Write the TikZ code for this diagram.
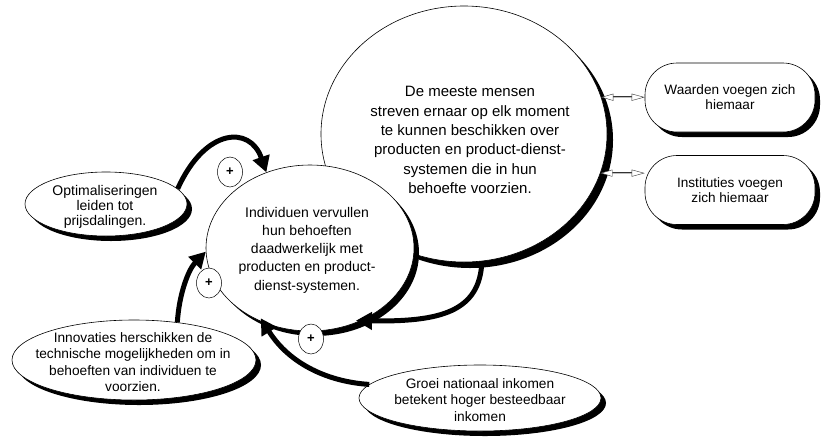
\documentclass[tikz,border=0pt]{standalone}
\usepackage{fontspec}
\setmainfont{Liberation Sans}
\usetikzlibrary{shapes.geometric,shadows,arrows.meta}

\begin{document}
\begin{tikzpicture}[x=1pt,y=-1pt,
  bubble/.style={ellipse, draw=black, line width=0.6pt, fill=white, inner sep=0pt},
  shade/.style={general shadow={fill=black, shadow xshift=#1, shadow yshift=-#1}},
  pill/.style={rectangle, rounded corners=32pt, draw=black, line width=0.6pt, fill=white,
    minimum width=170pt, minimum height=69pt, align=center,
    font=\fontsize{13.6}{15}\selectfont},
  lbl/.style={align=center, inner sep=0pt},
  feed/.style={line width=5pt, -{Triangle[length=16pt,width=17pt]}},
  link/.style={draw=black!80, line width=0.4pt, double=black!25, double distance=0.9pt,
    {Triangle[open,length=12pt,width=7pt,fill=white]}-{Triangle[open,length=13pt,width=7pt,fill=white]}},
  plus/.style={ellipse, draw=black, line width=0.5pt, fill=white, minimum width=25pt,
    minimum height=30pt, inner sep=0pt, font=\bfseries\fontsize{13}{13}\selectfont}
]
\useasboundingbox (0,0) rectangle (824,437);

% the two central circles
\node[bubble, shade=6pt, minimum width=286pt, minimum height=256pt] (big) at (464,134) {};
\node[lbl, font=\fontsize{15}{19.3}\selectfont] (bigtext) at (470,140)
  {De meeste mensen\\streven ernaar op elk moment\\te kunnen beschikken over\\producten en product-dienst-\\systemen die in hun\\behoefte voorzien.};

\node[bubble, shade=5pt, minimum width=208pt, minimum height=166pt] (small) at (310,248) {};
\node[lbl, font=\fontsize{14}{18.3}\selectfont] (smalltext) at (307,250)
  {Individuen vervullen\\hun behoeften\\daadwerkelijk met\\producten en product-\\dienst-systemen.};

% the driving factors
\node[bubble, shade=5pt, minimum width=162pt, minimum height=64pt] (opt) at (106,204) {};
\node[lbl, font=\fontsize{14}{15.2}\selectfont] (opttext) at (105,207)
  {Optimaliseringen\\leiden tot\\prijsdalingen.};

\node[bubble, shade=5pt, minimum width=244pt, minimum height=80pt] (inno) at (134,360) {};
\node[lbl, font=\fontsize{13.7}{16.3}\selectfont] (innotext) at (133,362)
  {Innovaties herschikken de\\technische mogelijkheden om in\\behoeften van individuen te\\voorzien.};

\node[bubble, shade=5pt, minimum width=242pt, minimum height=66pt] (groei) at (480,398) {};
\node[lbl, font=\fontsize{13.7}{16.5}\selectfont] (groeitext) at (480,400)
  {Groei nationaal inkomen\\betekent hoger besteedbaar\\inkomen};

% values and institutions
\node[pill, shade=5pt] (wa) at (730,97.5) {Waarden voegen zich\\hiemaar};
\node[pill, shade=5pt] (in) at (730,190) {Instituties voegen\\zich hiemaar};

\draw[link] (big.15) -- (big.15 -| wa.west);
\draw[link] (big.-16) -- (big.-16 -| in.west);

% feedback arrows
\draw[feed] (opt.12) .. controls (205,128) and (250,125) .. (small.120);
\draw[feed] (inno.41) .. controls (179,295) and (188,270) .. (small.182);
\draw[feed, shorten >=-5pt] (groei.173) .. controls (330,382) and (290,365) .. (small.238);
\draw[feed, shorten >=-5pt] (big.-82) .. controls (480,312) and (440,322) .. (small.-55);

% positive influence markers
\node[plus] (pa) at (230,172) {+};
\node[plus] (pb) at (209,283) {+};
\node[plus] (pc) at (311,339) {+};
\end{tikzpicture}
\end{document}
